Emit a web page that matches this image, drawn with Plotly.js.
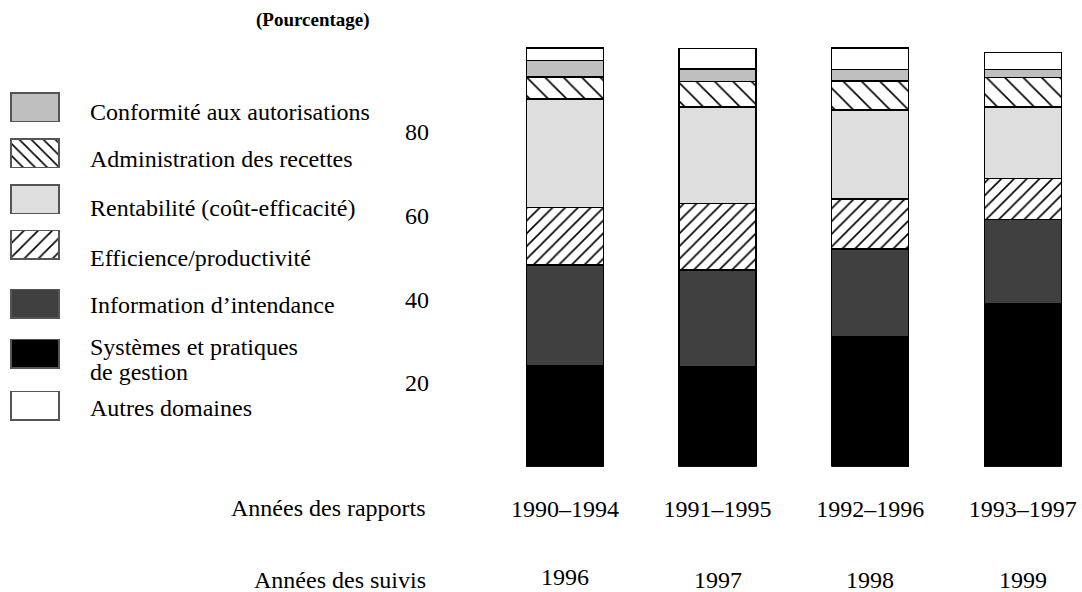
<!DOCTYPE html>
<html>
<head>
<meta charset="utf-8">
<script src="https://cdn.plot.ly/plotly-3.0.1.min.js"></script>
<style>html,body{margin:0;padding:0;background:#fff;}#chart{width:1082px;height:592px;}</style>
</head>
<body>
<div id="chart"></div>
<script>
// ---- data ----
var reportYears = ['1990–1994', '1991–1995', '1992–1996', '1993–1997'];
var followYears = ['1996', '1997', '1998', '1999'];
var yTicks = [20, 40, 60, 80];

var systemes    = [24.1, 23.9, 31.1, 38.9];
var information = [24.1, 23.1, 20.9, 20.2];
var efficience  = [13.8, 15.9, 12.0, 9.8];
var rentabilite = [25.9, 23.1, 21.3, 17.1];
var administration = [5.2, 6.1, 6.9, 7.0];
var conformite  = [4.0, 2.9, 2.7, 1.9];
var autres      = [3.0, 5.0, 5.2, 4.1];

// ---- styles ----
var FONT = 'Liberation Serif, Times New Roman, serif';
var FS = 24;
var series = [
  {name: 'Systèmes et pratiques<br>de gestion', values: systemes, color: '#000000', pattern: '', psize: 0, lsize: 0},
  {name: 'Information d’intendance', values: information, color: '#404040', pattern: '', psize: 0, lsize: 0},
  {name: 'Efficience/productivité', values: efficience, color: '#ffffff', pattern: '/', psize: 9, lsize: 10},
  {name: 'Rentabilité (coût-efficacité)', values: rentabilite, color: '#dedede', pattern: '', psize: 0, lsize: 0},
  {name: 'Administration des recettes', values: administration, color: '#ffffff', pattern: '\\', psize: 13, lsize: 8.5},
  {name: 'Conformité aux autorisations', values: conformite, color: '#bfbfbf', pattern: '', psize: 0, lsize: 0},
  {name: 'Autres domaines', values: autres, color: '#ffffff', pattern: '', psize: 0, lsize: 0}
];

function patternFor(shape, size) {
  return shape ? {shape: shape, fgcolor: '#000', bgcolor: '#fff', size: size, solidity: 1.6 / size, fillmode: 'replace'} : {shape: ''};
}

// legend layout (pixel positions, layout only)
var legendOrder = [5, 4, 3, 2, 1, 0, 6];
var legendBoxCenter = [107, 153, 199, 244.5, 303.7, 353.8, 405.8];
var legendBoxH = 28.5, legendBoxW = 48, legendBoxX = 11;
var legendTextY = [[112], [159], [208], [258], [305], [347, 372], [408]];
var legendTextX = 88;

var W = 1082, H = 592;
var plotBottom = 466.7, plotTop = 27.4;

var traces = series.map(function (s) {
  return {
    type: 'bar',
    x: reportYears,
    y: s.values,
    name: s.name,
    width: 0.505,
    showlegend: false,
    hoverinfo: 'skip',
    marker: {
      color: s.color,
      line: {color: '#000', width: 1.5},
      pattern: patternFor(s.pattern, s.psize)
    }
  };
});

// legend swatches drawn as bars on a pixel-scaled helper subplot
legendOrder.forEach(function (si, k) {
  var s = series[si];
  traces.push({
    type: 'bar', orientation: 'h', xaxis: 'x2', yaxis: 'y2',
    y: [legendBoxCenter[k]], x: [legendBoxW], base: [legendBoxX], width: [legendBoxH],
    showlegend: false, hoverinfo: 'skip',
    marker: {color: s.color, line: {color: '#555', width: 1.5}, pattern: patternFor(s.pattern, s.lsize)}
  });
});

var annotations = [];
// legend labels
legendOrder.forEach(function (si, k) {
  var lines = series[si].name.split('<br>');
  lines.forEach(function (ln, j) {
    annotations.push({
      xref: 'paper', yref: 'paper', x: legendTextX / W, y: 1 - legendTextY[k][j] / H,
      xanchor: 'left', yanchor: 'middle', showarrow: false, text: ln,
      font: {family: FONT, size: FS, color: '#000'}
    });
  });
});
// follow-up years row
followYears.forEach(function (fy, i) {
  annotations.push({
    xref: 'x', yref: 'paper', x: reportYears[i], y: 1 - (i === 0 ? 577 : 580) / H,
    xanchor: 'center', yanchor: 'middle', showarrow: false, text: fy,
    font: {family: FONT, size: FS, color: '#000'}
  });
});
// row labels
annotations.push({xref: 'paper', yref: 'paper', x: 428 / W, y: 1 - 508 / H, xanchor: 'right', yanchor: 'middle',
  showarrow: false, text: 'Années des rapports', font: {family: FONT, size: FS, color: '#000'}});
annotations.push({xref: 'paper', yref: 'paper', x: 428 / W, y: 1 - 580 / H, xanchor: 'right', yanchor: 'middle',
  showarrow: false, text: 'Années des suivis', font: {family: FONT, size: FS, color: '#000'}});
// unit title
annotations.push({xref: 'paper', yref: 'paper', x: 313 / W, y: 1 - 20 / H, xanchor: 'center', yanchor: 'middle',
  showarrow: false, text: '<b>(Pourcentage)</b>', font: {family: FONT, size: 19, color: '#000'}});

var layout = {
  width: W, height: H,
  margin: {l: 0, r: 0, t: 0, b: 0, pad: 0},
  paper_bgcolor: '#fff', plot_bgcolor: 'rgba(0,0,0,0)',
  barmode: 'stack',
  showlegend: false,
  font: {family: FONT, size: FS, color: '#000'},
  xaxis: {
    domain: [440 / W, 1], type: 'category', range: [-0.819, 3.388],
    showgrid: false, zeroline: false, showline: false, ticks: '',
    ticklabelstandoff: 25, tickfont: {family: FONT, size: FS, color: '#000'}, fixedrange: true
  },
  yaxis: {
    domain: [(H - plotBottom) / H, 1 - plotTop / H], range: [0, 105],
    tickvals: yTicks, ticktext: yTicks.map(String),
    showgrid: false, zeroline: false, showline: false, ticks: '',
    ticklabelstandoff: 10, tickfont: {family: FONT, size: FS, color: '#000'}, fixedrange: true
  },
  xaxis2: {domain: [0, 1], range: [0, W], anchor: 'y2', visible: false, fixedrange: true},
  yaxis2: {domain: [0, 1], range: [H, 0], anchor: 'x2', visible: false, fixedrange: true},
  annotations: annotations
};

Plotly.newPlot('chart', traces, layout, {displayModeBar: false, staticPlot: true});
</script>
</body>
</html>
